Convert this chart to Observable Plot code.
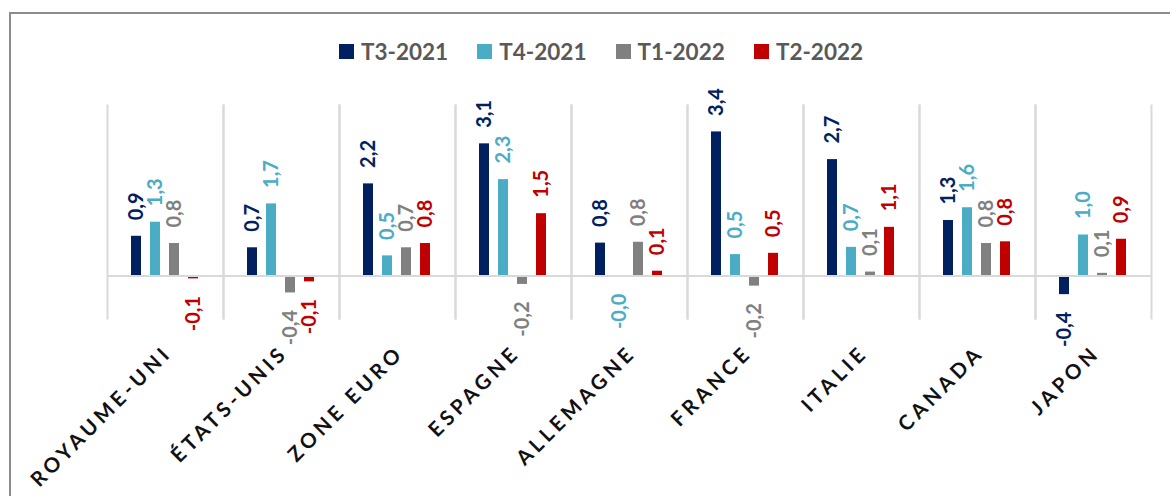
<!DOCTYPE html>
<html>
<head>
<meta charset="utf-8">
<script src="https://cdn.jsdelivr.net/npm/d3@7"></script>
<script src="https://cdn.jsdelivr.net/npm/@observablehq/plot@0.6"></script>
<style>
  html, body { margin: 0; padding: 0; background: #fff; width: 1170px; height: 496px; overflow: hidden; }
  #frame { position: absolute; left: 9px; top: 12px; width: 1200px; height: 520px; border: 2px solid #8c8c8c; box-sizing: border-box; }
  #legend { position: absolute; left: 339px; top: 36px; height: 31px; display: flex; align-items: center; font-family: Lato, sans-serif; font-weight: bold; font-size: 22.5px; color: #595959; z-index: 2; }
  .item { display: flex; align-items: center; width: 138.3px; }
  .sw { width: 15px; height: 15.5px; margin-right: 7px; }
  #chart { position: absolute; left: 0; top: 70px; z-index: 1; }
</style>
</head>
<body>
<div id="frame"></div>
<div id="legend"></div>
<div id="chart"></div>
<script>
const countries = ["ROYAUME-UNI", "ÉTATS-UNIS", "ZONE EURO", "ESPAGNE", "ALLEMAGNE", "FRANCE", "ITALIE", "CANADA", "JAPON"];
const series = ["T3-2021", "T4-2021", "T1-2022", "T2-2022"];
const t3_2021 = [0.93, 0.66, 2.16, 3.10, 0.77, 3.38, 2.73, 1.30, -0.44];
const t4_2021 = [1.26, 1.69, 0.47, 2.26, -0.02, 0.50, 0.67, 1.60, 0.96];
const t1_2022 = [0.76, -0.40, 0.66, -0.20, 0.79, -0.24, 0.09, 0.76, 0.06];
const t2_2022 = [-0.07, -0.14, 0.76, 1.46, 0.11, 0.53, 1.14, 0.80, 0.86];
const colors = ["#002060", "#4BACC6", "#808080", "#C00000"];

const values = [t3_2021, t4_2021, t1_2022, t2_2022];
const data = [];
countries.forEach((c, i) => series.forEach((s, j) => data.push({country: c, series: s, value: values[j][i]})));
const fmt = d => d.value.toFixed(1).replace(".", ",");

// legend
const legend = document.getElementById("legend");
series.forEach((s, j) => {
  const it = document.createElement("div"); it.className = "item";
  const sw = document.createElement("div"); sw.className = "sw"; sw.style.background = colors[j];
  const tx = document.createElement("span"); tx.textContent = s;
  it.appendChild(sw); it.appendChild(tx); legend.appendChild(it);
});

const chart = Plot.plot({
  width: 1170,
  height: 426,
  marginLeft: 106,
  marginRight: 18,
  marginTop: 35,
  marginBottom: 178,
  style: {fontFamily: "Lato, sans-serif", background: "transparent"},
  fx: {domain: countries, padding: 0, label: null},
  x: {domain: series, paddingInner: 0.46, paddingOuter: 1.21, axis: null},
  y: {domain: [-1, 4], axis: null},
  color: {domain: series, range: colors},
  marks: [
    Plot.frame({anchor: "left", stroke: "#d9d9d9", strokeWidth: 2}),
    Plot.frame({anchor: "right", stroke: "#d9d9d9", strokeWidth: 2}),
    Plot.barY(data, {fx: "country", x: "series", y: "value", fill: "series"}),
    Plot.ruleY([0], {stroke: "#d9d9d9", strokeWidth: 2}),
    Plot.text(data.filter(d => d.value >= 0), {fx: "country", x: "series", y: "value", text: fmt, fill: "series", rotate: -90, textAnchor: "start", dy: -16, fontSize: 20, fontWeight: "bold"}),
    Plot.text(data.filter(d => d.value < 0), {fx: "country", x: "series", y: "value", text: fmt, fill: "series", rotate: -90, textAnchor: "end", dy: 17, fontSize: 20, fontWeight: "bold"}),
    Plot.axisFx({anchor: "bottom", tickSize: 0, tickPadding: 31, tickRotate: -45, dx: 3, fontSize: 20.5, fontWeight: "bold", fill: "#111", label: null})
  ]
});
d3.select(chart).selectAll('g[aria-label="fx-axis tick label"] text').attr("letter-spacing", "4px");
document.getElementById("chart").appendChild(chart);
</script>
</body>
</html>
